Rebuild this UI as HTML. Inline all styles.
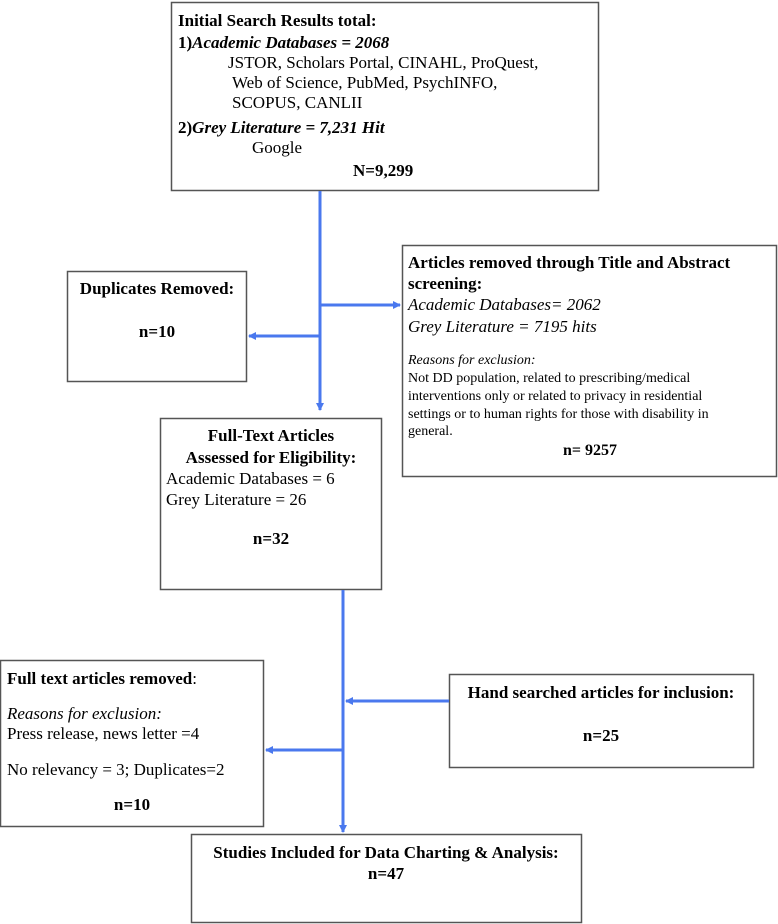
<!DOCTYPE html>
<html><head><meta charset="utf-8"><style>
html,body{margin:0;padding:0;background:#fff;}
svg{display:block;}
text{font-family:"Liberation Serif",serif;fill:#000;}
.b{font-weight:bold;}
.i{font-style:italic;}
</style></head><body>
<svg width="778" height="924" viewBox="0 0 778 924" xmlns="http://www.w3.org/2000/svg">
<defs>
<marker id="ah" markerWidth="8" markerHeight="8" refX="7" refY="4" orient="auto" markerUnits="userSpaceOnUse">
<path d="M0,0 L8,4 L0,8 Z" fill="#4a78ee"/>
</marker>
</defs>
<g fill="#fff" stroke="#555" stroke-width="1.5">
<rect x="171.5" y="2.5" width="427" height="188"/>
<rect x="67.5" y="271.5" width="179" height="110"/>
<rect x="402.5" y="245.5" width="374" height="231"/>
<rect x="160.5" y="418.5" width="221" height="171"/>
<rect x="0.5" y="660.5" width="263" height="166"/>
<rect x="449.5" y="674.5" width="304" height="93"/>
<rect x="191.5" y="834.5" width="390" height="88"/>
</g>
<g stroke="#4a78ee" stroke-width="3" fill="none">
<line x1="320" y1="191" x2="320" y2="410" marker-end="url(#ah)"/>
<line x1="320" y1="305" x2="400" y2="305" marker-end="url(#ah)"/>
<line x1="320" y1="336" x2="249" y2="336" marker-end="url(#ah)"/>
<line x1="343" y1="590" x2="343" y2="832" marker-end="url(#ah)"/>
<line x1="449" y1="701" x2="346" y2="701" marker-end="url(#ah)"/>
<line x1="343" y1="750" x2="266" y2="750" marker-end="url(#ah)"/>
</g>
<g font-size="17">
<text x="178" y="26" class="b">Initial Search Results total:</text>
<text x="178" y="48" class="b">1)<tspan class="i">Academic Databases = 2068</tspan></text>
<text x="228" y="68">JSTOR, Scholars Portal, CINAHL, ProQuest,</text>
<text x="232" y="88">Web of Science, PubMed, PsychINFO,</text>
<text x="232" y="108">SCOPUS, CANLII</text>
<text x="178" y="133" class="b">2)<tspan class="i">Grey Literature = 7,231 Hit</tspan></text>
<text x="252" y="153">Google</text>
<text x="353" y="176" class="b">N=9,299</text>

<text x="157" y="294" class="b" text-anchor="middle">Duplicates Removed:</text>
<text x="157" y="337" class="b" text-anchor="middle">n=10</text>

<text x="408" y="268" class="b">Articles removed through Title and Abstract</text>
<text x="408" y="289" class="b">screening:</text>
<text x="408" y="310" class="i">Academic Databases= 2062</text>
<text x="408" y="332" class="i">Grey Literature = 7195 hits</text>
</g>
<g font-size="14">
<text x="408" y="364" class="i">Reasons for exclusion:</text>
<text x="408" y="382">Not DD population, related to prescribing/medical</text>
<text x="408" y="400">interventions only or related to privacy in residential</text>
<text x="408" y="418">settings or to human rights for those with disability in</text>
<text x="408" y="435">general.</text>
<text x="590" y="455" class="b" font-size="16" text-anchor="middle">n= 9257</text>
</g>
<g font-size="17">
<text x="271" y="441" class="b" text-anchor="middle">Full-Text Articles</text>
<text x="271" y="463" class="b" text-anchor="middle">Assessed for Eligibility:</text>
<text x="166" y="484">Academic Databases = 6</text>
<text x="166" y="505">Grey Literature = 26</text>
<text x="271" y="544" class="b" text-anchor="middle">n=32</text>

<text x="7" y="684"><tspan class="b">Full text articles removed</tspan>:</text>
<text x="7" y="719" class="i">Reasons for exclusion:</text>
<text x="7" y="739">Press release, news letter =4</text>
<text x="7" y="775">No relevancy = 3; Duplicates=2</text>
<text x="132" y="810" class="b" text-anchor="middle">n=10</text>

<text x="601" y="698" class="b" text-anchor="middle">Hand searched articles for inclusion:</text>
<text x="601" y="741" class="b" text-anchor="middle">n=25</text>

<text x="386" y="858" class="b" text-anchor="middle">Studies Included for Data Charting &amp; Analysis:</text>
<text x="386" y="879" class="b" text-anchor="middle">n=47</text>
</g>
</svg>
</body></html>
